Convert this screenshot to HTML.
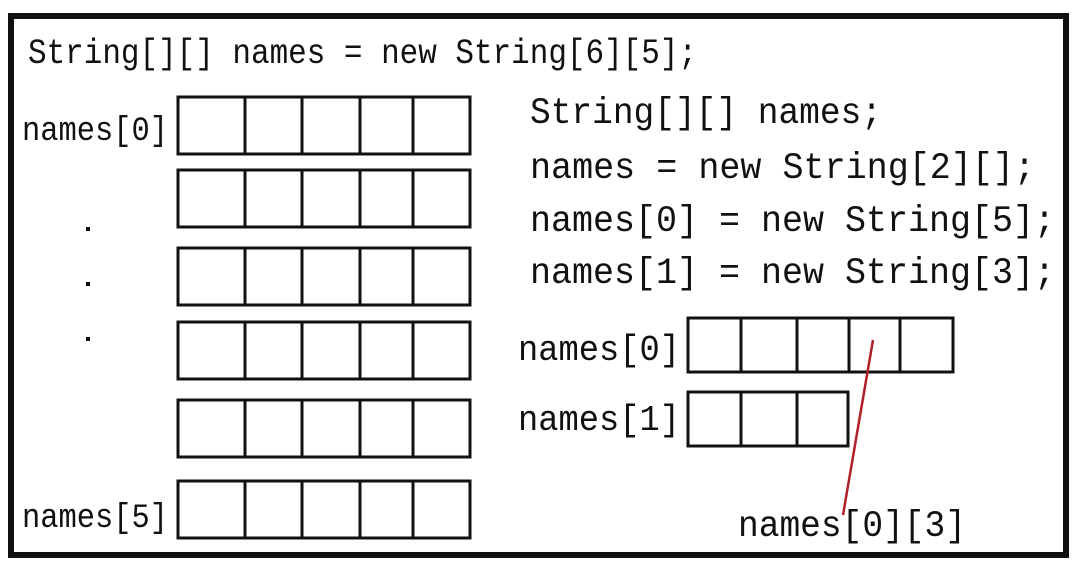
<!DOCTYPE html>
<html><head><meta charset="utf-8"><style>
html,body{margin:0;padding:0;background:#fff;width:1079px;height:567px;overflow:hidden}
text{font-family:"Liberation Mono","DejaVu Sans Mono",monospace;fill:#111}
</style></head><body>
<svg width="1079" height="567">
<rect x="11" y="16" width="1055" height="539" fill="#fff" stroke="#111" stroke-width="6"/>
<text x="28" y="63" font-size="35" textLength="669" lengthAdjust="spacingAndGlyphs">String[][] names = new String[6][5];</text>
<g>
<text x="530" y="123" font-size="37" textLength="352" lengthAdjust="spacingAndGlyphs">String[][] names;</text>
<text x="530" y="178" font-size="37" textLength="505" lengthAdjust="spacingAndGlyphs">names = new String[2][];</text>
<text x="530" y="231" font-size="37" textLength="525" lengthAdjust="spacingAndGlyphs">names[0] = new String[5];</text>
<text x="530" y="283" font-size="37" textLength="525" lengthAdjust="spacingAndGlyphs">names[1] = new String[3];</text>
</g>
<text x="22" y="140" font-size="34" textLength="146" lengthAdjust="spacingAndGlyphs">names[0]</text>
<text x="22" y="527" font-size="34" textLength="146" lengthAdjust="spacingAndGlyphs">names[5]</text>
<g fill="#111">
<rect x="86" y="227" width="4" height="4"/><rect x="86" y="282" width="4" height="4"/><rect x="86" y="337" width="4" height="4"/>
</g>
<g id="left-grid" fill="none" stroke="#111" stroke-width="3"></g>
<text x="518" y="360" font-size="36" textLength="162" lengthAdjust="spacingAndGlyphs">names[0]</text>
<text x="518" y="430" font-size="36" textLength="162" lengthAdjust="spacingAndGlyphs">names[1]</text>
<g id="right-grid" fill="none" stroke="#111" stroke-width="3"></g>
<line x1="873" y1="340" x2="843" y2="515" stroke="#b0202a" stroke-width="2.5"/>
<text x="738" y="536" font-size="37" textLength="228" lengthAdjust="spacingAndGlyphs">names[0][3]</text>
</svg>
<script>
const leftRowsY=[97,170,248,322,400,481];
const leftCols=[178,245,302,360,413,470];
const rowH=57;
const lg=document.getElementById('left-grid');
const NS='http://www.w3.org/2000/svg';
leftRowsY.forEach((y,i)=>{
  const r=document.createElementNS(NS,'rect');
  r.setAttribute('x',leftCols[0]);r.setAttribute('y',y);
  r.setAttribute('width',leftCols[5]-leftCols[0]);r.setAttribute('height',rowH);
  
  
  lg.appendChild(r);
  for(let c=1;c<5;c++){const l=document.createElementNS(NS,'line');
    l.setAttribute('x1',leftCols[c]);l.setAttribute('x2',leftCols[c]);
    l.setAttribute('y1',y);l.setAttribute('y2',y+rowH);
    
    
    lg.appendChild(l);}
});
const rightRows=[{y:318,cols:[688,741,797,849,900,953]},{y:392,cols:[688,741,797,848]}];
const rg=document.getElementById('right-grid');
rightRows.forEach((row,i)=>{
  const cs=row.cols,h=54;
  const r=document.createElementNS(NS,'rect');
  r.setAttribute('x',cs[0]);r.setAttribute('y',row.y);
  r.setAttribute('width',cs[cs.length-1]-cs[0]);r.setAttribute('height',h);
  
  
  rg.appendChild(r);
  for(let c=1;c<cs.length-1;c++){const l=document.createElementNS(NS,'line');
    l.setAttribute('x1',cs[c]);l.setAttribute('x2',cs[c]);
    l.setAttribute('y1',row.y);l.setAttribute('y2',row.y+h);
    
    
    rg.appendChild(l);}
});
</script>
</body></html>
